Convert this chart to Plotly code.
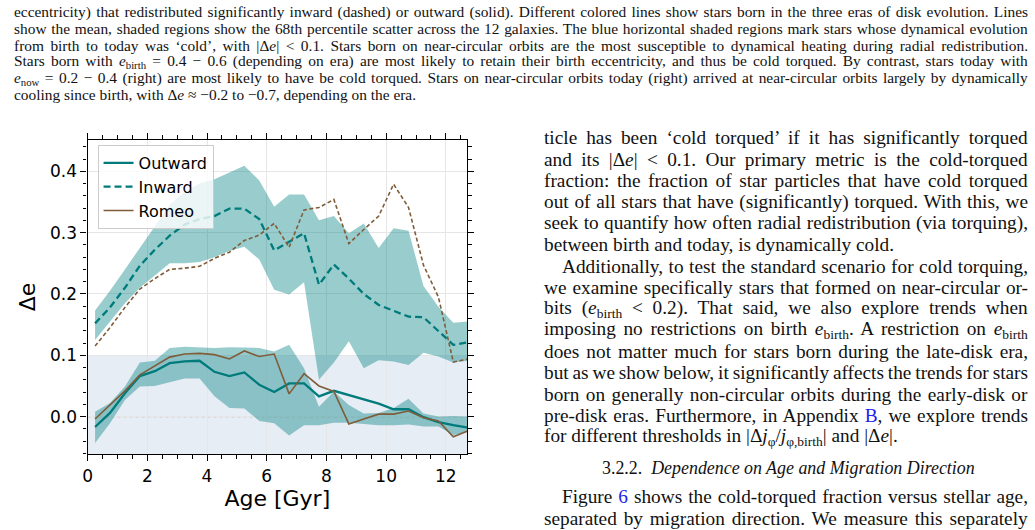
import json
import plotly.graph_objects as go

# ---------------- data ----------------
age = [0.25, 0.75, 1.25, 1.75, 2.25, 2.75, 3.25, 3.75, 4.25, 4.75, 5.25, 5.75, 6.25,
       6.75, 7.25, 7.75, 8.25, 8.75, 9.25, 9.75, 10.25, 10.75, 11.25, 11.75, 12.25, 12.75]

outward_mean = [-0.017, 0.006, 0.038, 0.066, 0.074, 0.087, 0.090, 0.091, 0.073, 0.066, 0.072, 0.052, 0.040,
                0.054, 0.054, 0.033, 0.042, 0.035, 0.027, 0.021, 0.012, 0.012, -0.001, -0.009, -0.014, -0.018]
outward_hi = [0.008, 0.022, 0.049, 0.088, 0.091, 0.112, 0.114, 0.113, 0.112, 0.113, 0.113, 0.112, 0.106,
              0.117, 0.079, 0.016, 0.041, 0.019, 0.005, 0.006, 0.014, 0.029, 0.005, 0.000, 0.001, 0.000]
outward_lo = [-0.043, -0.011, 0.027, 0.049, 0.050, 0.056, 0.062, 0.062, 0.033, 0.014, 0.013, -0.007, -0.011,
              -0.031, -0.014, -0.014, -0.010, -0.010, -0.012, -0.014, -0.014, -0.013, -0.016, -0.016, -0.030, -0.025]
outward_romeo = [-0.004, 0.019, 0.042, 0.068, 0.082, 0.097, 0.102, 0.103, 0.101, 0.094, 0.107, 0.098, 0.102,
                 0.037, 0.070, 0.050, 0.041, -0.012, -0.004, 0.004, 0.004, 0.009, -0.002, -0.007, -0.033, -0.023]

inward_mean = [0.152, 0.178, 0.210, 0.246, 0.272, 0.295, 0.313, 0.322, 0.327, 0.339, 0.339, 0.322, 0.271,
               0.285, 0.299, 0.215, 0.248, 0.225, 0.200, 0.182, 0.172, 0.163, 0.162, 0.140, 0.117, 0.121]
inward_hi = [0.173, 0.205, 0.240, 0.275, 0.310, 0.345, 0.367, 0.380, 0.387, 0.398, 0.409, 0.385, 0.342,
             0.362, 0.362, 0.320, 0.327, 0.299, 0.315, 0.275, 0.307, 0.303, 0.213, 0.179, 0.153, 0.155]
inward_lo = [0.125, 0.155, 0.185, 0.210, 0.230, 0.250, 0.250, 0.252, 0.260, 0.270, 0.277, 0.256, 0.207,
             0.199, 0.219, 0.060, 0.088, 0.123, 0.079, 0.092, 0.090, 0.084, 0.104, 0.098, 0.088, 0.091]
inward_romeo = [0.115, 0.145, 0.178, 0.208, 0.225, 0.240, 0.242, 0.245, 0.258, 0.268, 0.287, 0.296, 0.315,
                0.276, 0.337, 0.341, 0.354, 0.282, 0.305, 0.327, 0.379, 0.341, 0.247, 0.195, 0.089, 0.094]

cold_threshold = 0.1
series_names = ["Outward", "Inward", "Romeo"]
x_ticks = [0, 2, 4, 6, 8, 10, 12]
y_ticks = [0.0, 0.1, 0.2, 0.3, 0.4]

caption_lines = [
    "eccentricity) that redistributed significantly inward (dashed) or outward (solid). Different colored lines show stars born in the three eras of disk evolution. Lines",
    "show the mean, shaded regions show the 68th percentile scatter across the 12 galaxies. The blue horizontal shaded regions mark stars whose dynamical evolution",
    "from birth to today was ‘cold’, with |Δ<i>e</i>| &lt; 0.1. Stars born on near-circular orbits are the most susceptible to dynamical heating during radial redistribution.",
    "Stars born with <i>e</i><sub>birth</sub> = 0.4 − 0.6 (depending on era) are most likely to retain their birth eccentricity, and thus be cold torqued. By contrast, stars today with",
    "<i>e</i><sub>now</sub> = 0.2 − 0.4 (right) are most likely to have be cold torqued. Stars on near-circular orbits today (right) arrived at near-circular orbits largely by dynamically",
    "cooling since birth, with Δ<i>e</i> ≈ −0.2 to −0.7, depending on the era.",
]
caption_justified = [True, True, True, True, True, False]

column_lines = [
    "ticle has been ‘cold torqued’ if it has significantly torqued",
    "and its |Δ<i>e</i>| &lt; 0.1. Our primary metric is the cold-torqued",
    "fraction: the fraction of star particles that have cold torqued",
    "out of all stars that have (significantly) torqued. With this, we",
    "seek to quantify how often radial redistribution (via torquing),",
    "between birth and today, is dynamically cold.",
    "Additionally, to test the standard scenario for cold torquing,",
    "we examine specifically stars that formed on near-circular or-",
    "bits (<i>e</i><sub>birth</sub> &lt; 0.2). That said, we also explore trends when",
    "imposing no restrictions on birth <i>e</i><sub>birth</sub>. A restriction on <i>e</i><sub>birth</sub>",
    "does not matter much for stars born during the late-disk era,",
    "but as we show below, it significantly affects the trends for stars",
    "born on generally non-circular orbits during the early-disk or",
    "pre-disk eras. Furthermore, in Appendix <span style='color:#2222ee'>B</span>, we explore trends",
    "for different thresholds in |Δ<i>j</i><sub>φ</sub>/<i>j</i><sub>φ,birth</sub>| and |Δ<i>e</i>|.",
]
column_justified = [True, True, True, True, True, False, True, True, True, True, True, True, True, True, False]
column_indent = [False] * 6 + [True] + [False] * 8
heading = "3.2.2.  <i>Dependence on Age and Migration Direction</i>"
tail_lines = [
    "Figure <span style='color:#2222ee'>6</span> shows the cold-torqued fraction versus stellar age,",
    "separated by migration direction. We measure this separately",
]

# ---------------- style ----------------
W, H = 1035, 530
TEAL = "#007b7b"
BAND = "rgba(0,128,128,0.40)"
BROWN = "#7f5d3b"
SERIF = "Liberation Serif"
RIGHT_EDGE = 1028
px2x = lambda p: p / W
px2y = lambda p: 1 - p / H

fig = go.Figure()

for hi, lo in [(outward_hi, outward_lo), (inward_hi, inward_lo)]:
    fig.add_trace(go.Scatter(x=age, y=hi, mode="lines", line=dict(width=0, color=BAND),
                             showlegend=False, hoverinfo="skip"))
    fig.add_trace(go.Scatter(x=age, y=lo, mode="lines", line=dict(width=0, color=BAND),
                             fill="tonexty", fillcolor=BAND, showlegend=False, hoverinfo="skip"))

fig.add_trace(go.Scatter(x=age, y=outward_mean, mode="lines", name=series_names[0],
                         line=dict(color=TEAL, width=2.3)))
fig.add_trace(go.Scatter(x=age, y=inward_mean, mode="lines", name=series_names[1],
                         line=dict(color=TEAL, width=2.3, dash="7px,4px")))
fig.add_trace(go.Scatter(x=age, y=outward_romeo, mode="lines", name=series_names[2],
                         line=dict(color=BROWN, width=1.6)))
fig.add_trace(go.Scatter(x=age, y=inward_romeo, mode="lines", name="Romeo inward", showlegend=False,
                         line=dict(color=BROWN, width=1.6, dash="4px,2.5px")))

fig.add_shape(type="rect", xref="x domain", yref="y", x0=0, x1=1, y0=-1, y1=cold_threshold,
              fillcolor="rgba(176,196,222,0.30)", line=dict(width=0), layer="below")
fig.add_shape(type="line", xref="x domain", yref="y", x0=0, x1=1, y0=0, y1=0,
              line=dict(color="#a8a8a8", width=1.3, dash="dot"), layer="below")

axis_common = dict(showline=True, linecolor="black", linewidth=1.3, mirror="ticks",
                   ticks="outside", ticklen=6, tickwidth=1.3, tickcolor="black",
                   showgrid=True, gridcolor="#e6e6e6", gridwidth=1, zeroline=False,
                   tickfont=dict(family="DejaVu Sans", size=17, color="black"))

fig.update_xaxes(range=[0, 12.71], tickvals=x_ticks, domain=[px2x(83), px2x(464.3)],
                 minor=dict(dtick=0.5, tick0=0, ticklen=3.5, tickwidth=1, tickcolor="black",
                            ticks="outside", showgrid=False),
                 title=dict(text="Age [Gyr]", font=dict(family="DejaVu Sans", size=22, color="black"),
                            standoff=6),
                 **axis_common)
fig.update_yaxes(range=[-0.061, 0.451], tickvals=y_ticks, tickformat=".1f",
                 domain=[px2y(454), px2y(140)],
                 minor=dict(dtick=0.02, tick0=0, ticklen=3.5, tickwidth=1, tickcolor="black",
                            ticks="outside", showgrid=False),
                 title=dict(text="Δe", font=dict(family="DejaVu Sans", size=22, color="black"),
                            standoff=8),
                 **axis_common)

# ---------------- page text ----------------
ann = []
justify = {}
cap_y = [12, 29, 45.5, 62, 78.5, 95]
for t, y, j in zip(caption_lines, cap_y, caption_justified):
    if j:
        justify[len(ann)] = RIGHT_EDGE
    ann.append(dict(text=t, x=px2x(7), y=px2y(y), size=15.4))
col_y = [138 + 21.36 * k for k in range(len(column_lines))]
for t, y, j, ind in zip(column_lines, col_y, column_justified, column_indent):
    if j:
        justify[len(ann)] = RIGHT_EDGE
    ann.append(dict(text=t, x=px2x(558 if ind else 540), y=px2y(y), size=19.3))
ann.append(dict(text=heading, x=px2x(598), y=px2y(468), size=17.9))
for t, y, ind in zip(tail_lines, [496, 518], [True, False]):
    justify[len(ann)] = RIGHT_EDGE
    ann.append(dict(text=t, x=px2x(558 if ind else 540), y=px2y(y), size=19.3))

for a in ann:
    size = a.pop("size")
    fig.add_annotation(xref="paper", yref="paper", showarrow=False, xanchor="left", yanchor="middle",
                       align="left", font=dict(family=SERIF, size=size, color="#111111"), **a)

fig.update_layout(
    width=W, height=H, margin=dict(l=0, r=0, t=0, b=0),
    paper_bgcolor="white", plot_bgcolor="white",
    showlegend=True,
    legend=dict(x=px2x(93), y=px2y(145), xanchor="left", yanchor="top", traceorder="normal",
                bgcolor="rgba(255,255,255,0.8)", bordercolor="#cccccc", borderwidth=1,
                font=dict(family="DejaVu Sans", size=16, color="black"),
                itemwidth=30, tracegroupgap=0),
)

# stretch the inter-word spaces of justified lines so they end at the column edge
js = """
(function(){
  var gd = document.getElementById('{plot_id}');
  var targets = %s;
  function justify(){
    var gr = gd.getBoundingClientRect();
    gd.querySelectorAll('g.annotation').forEach(function(g){
      var idx = g.getAttribute('data-index');
      if (!(idx in targets)) return;
      var t = g.querySelector('text.annotation-text');
      if (!t) return;
      t.style.wordSpacing = '0px';
      var r = t.getBoundingClientRect();
      var n = (t.textContent.match(/ /g) || []).length;
      if (n > 0) t.style.wordSpacing = ((targets[idx] - (r.right - gr.left)) / n) + 'px';
    });
  }
  justify();
  if (gd.on) gd.on('plotly_afterplot', justify);
})();
""" % json.dumps({str(k): v for k, v in justify.items()})

fig.write_html("out.html", post_script=js)
